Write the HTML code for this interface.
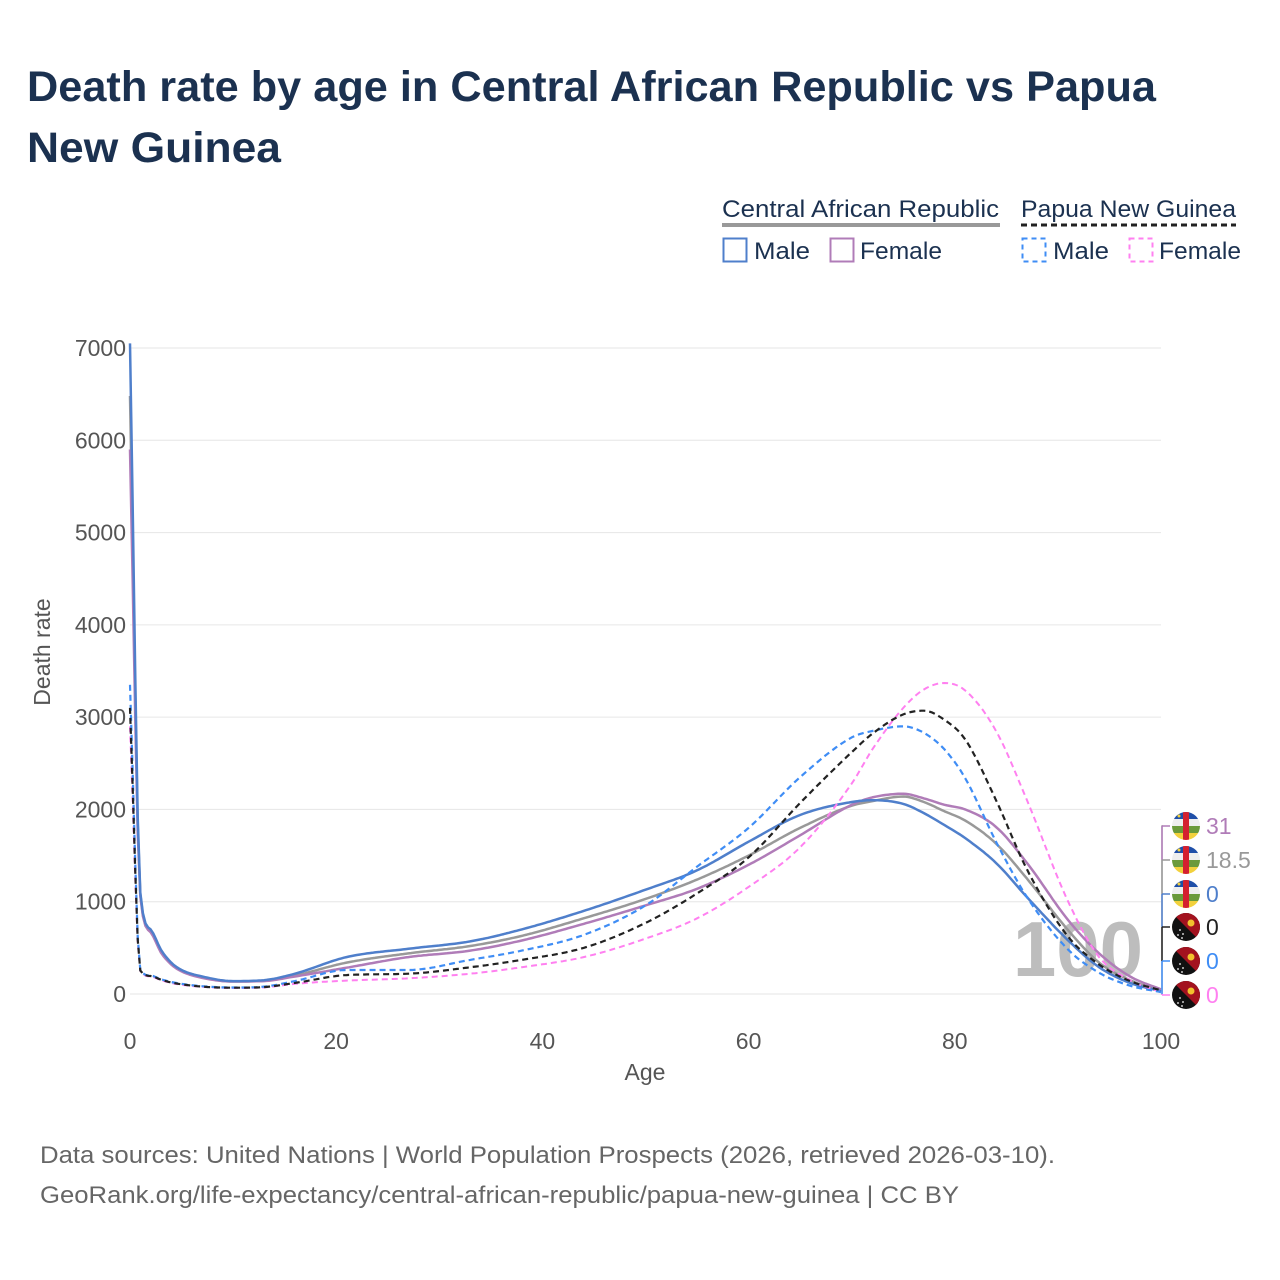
<!DOCTYPE html>
<html><head><meta charset="utf-8"><style>
html,body{margin:0;padding:0;background:#fff;}
body{width:1280px;height:1280px;position:relative;overflow:hidden;font-family:"Liberation Sans",sans-serif;}
</style></head><body>
<svg id="chart" width="1280" height="1280" xmlns="http://www.w3.org/2000/svg" style="position:absolute;left:0;top:0">
<text x="27" y="101" font-size="43" font-weight="bold" fill="#1b3150" textLength="1129" lengthAdjust="spacingAndGlyphs">Death rate by age in Central African Republic vs Papua</text>
<text x="27" y="162" font-size="43" font-weight="bold" fill="#1b3150" textLength="254" lengthAdjust="spacingAndGlyphs">New Guinea</text>

<g font-size="24" fill="#1b3150">
<text x="722" y="217" textLength="277" lengthAdjust="spacingAndGlyphs">Central African Republic</text>
<line x1="722" y1="225" x2="1000" y2="225" stroke="#999" stroke-width="4"/>
<text x="1021" y="217" textLength="215" lengthAdjust="spacingAndGlyphs">Papua New Guinea</text>
<line x1="1021" y1="225" x2="1236" y2="225" stroke="#222" stroke-width="3" stroke-dasharray="6,4"/>
<rect x="723.5" y="238.5" width="23" height="23" fill="none" stroke="#4f7fcb" stroke-width="2"/>
<text x="754" y="259" textLength="56" lengthAdjust="spacingAndGlyphs">Male</text>
<rect x="830.5" y="238.5" width="23" height="23" fill="none" stroke="#b07cb8" stroke-width="2"/>
<text x="860" y="259" textLength="82" lengthAdjust="spacingAndGlyphs">Female</text>
<rect x="1022.5" y="238.5" width="23" height="23" fill="none" stroke="#3f8df5" stroke-width="2" stroke-dasharray="5,4"/>
<text x="1053" y="259" textLength="56" lengthAdjust="spacingAndGlyphs">Male</text>
<rect x="1129.5" y="238.5" width="23" height="23" fill="none" stroke="#ff80f0" stroke-width="2" stroke-dasharray="5,4"/>
<text x="1159" y="259" textLength="82" lengthAdjust="spacingAndGlyphs">Female</text>
</g>

<g id="grid"></g>
<g id="yticks"></g>
<g id="xticks"></g>
<text x="1078" y="976" font-size="78" font-weight="bold" fill="#bdbdbd" text-anchor="middle">100</text>
<g id="series"></g>
<g id="endlabels"></g>

<text transform="translate(50,652) rotate(-90)" font-size="23" fill="#555" text-anchor="middle">Death rate</text>
<text x="645" y="1080" font-size="23" fill="#555" text-anchor="middle">Age</text>
<text x="40" y="1163" font-size="24" fill="#666" textLength="1015" lengthAdjust="spacingAndGlyphs">Data sources: United Nations | World Population Prospects (2026, retrieved 2026-03-10).</text>
<text x="40" y="1203" font-size="24" fill="#666" textLength="919" lengthAdjust="spacingAndGlyphs">GeoRank.org/life-expectancy/central-african-republic/papua-new-guinea | CC BY</text>
</svg>
<script>
const ages = [0,1,2,3,4,5,7,10,13,16,21,27,33,38,44,50,55,60,65,70,72,75,77,79,81,84,87,91,94,97,100];
const carMale = [7050,1100,700,480,340,260,190,140,150,220,400,490,570,700,900,1130,1340,1650,1940,2080,2100,2060,1960,1830,1690,1420,1050,580,290,120,30];
const carTotal = [6480,1080,680,460,325,250,180,135,145,200,340,440,520,630,820,1030,1240,1500,1800,2040,2090,2140,2080,1980,1880,1630,1250,690,340,150,30];
const carFemale = [5900,1060,670,450,320,245,175,135,140,190,285,400,470,580,760,960,1140,1400,1720,2050,2130,2170,2120,2050,2000,1810,1420,800,440,190,50];
const pngMale = [3350,260,200,160,130,110,85,70,80,140,260,260,370,470,640,960,1380,1800,2350,2780,2850,2900,2830,2650,2340,1650,1050,480,230,90,20];
const pngTotal = [3100,255,195,155,125,105,80,68,75,120,205,220,290,370,500,770,1090,1480,2070,2620,2820,3030,3070,2970,2760,2100,1350,620,320,140,40];
const pngFemale = [2900,250,190,150,120,100,78,65,72,110,145,170,220,290,400,600,820,1160,1590,2280,2650,3100,3300,3370,3290,2850,2100,1000,400,150,20];
const yTicks = [0,1000,2000,3000,4000,5000,6000,7000];
const xTicks = [0,20,40,60,80,100];
const endLabels = ["31","18.5","0","0","0","0"];

const NS="http://www.w3.org/2000/svg";
const X0=130,X1=1161,Y0=994,Y1=348;
function xs(a){return X0+(a/100)*(X1-X0);}
function ys(v){return Y0-(v/7000)*(Y0-Y1);}
function mk(tag,attrs,parent){const e=document.createElementNS(NS,tag);for(const k in attrs)e.setAttribute(k,attrs[k]);parent.appendChild(e);return e;}
const grid=document.getElementById('grid'),yt=document.getElementById('yticks'),xt=document.getElementById('xticks');
yTicks.forEach(t=>{
  const l=mk('line',{x1:X0,x2:X1,y1:ys(t),y2:ys(t),stroke:'#e6e6e6','stroke-width':1},grid);
  
  
  const tx=mk('text',{x:126,y:ys(t)+8,'font-size':23,fill:'#555','text-anchor':'end'},yt);
  tx.textContent=t;
  
  
});
xTicks.forEach(t=>{
  const tx=mk('text',{x:xs(t),y:1049,'font-size':23,fill:'#555','text-anchor':'middle'},xt);
  tx.textContent=t;
  
  
});
function mono(xa,ya){
  const n=xa.length,d=[],m=[];
  for(let i=0;i<n-1;i++)d.push((ya[i+1]-ya[i])/(xa[i+1]-xa[i]));
  m[0]=d[0];m[n-1]=d[n-2];
  for(let i=1;i<n-1;i++){m[i]=(d[i-1]*d[i]<=0)?0:(d[i-1]+d[i])/2;}
  for(let i=0;i<n-1;i++){if(d[i]===0){m[i]=0;m[i+1]=0;continue;}const a=m[i]/d[i],b=m[i+1]/d[i],s=a*a+b*b;if(s>9){const t=3/Math.sqrt(s);m[i]=t*a*d[i];m[i+1]=t*b*d[i];}}
  return function(x){let i=0;while(i<n-2&&x>xa[i+1])i++;const h=xa[i+1]-xa[i],t=(x-xa[i])/h,t2=t*t,t3=t2*t;
    return (2*t3-3*t2+1)*ya[i]+(t3-2*t2+t)*h*m[i]+(-2*t3+3*t2)*ya[i+1]+(t3-t2)*h*m[i+1];};
}
const ser=document.getElementById('series');
const defs=[
 ['car-total-line',carTotal,'#999',2.5,null],
 ['car-female-line',carFemale,'#b07cb8',2.5,null],
 ['car-male-line',carMale,'#4f7fcb',2.5,null],
 ['png-female-line',pngFemale,'#ff80f0',2,'6,4'],
 ['png-male-line',pngMale,'#3f8df5',2.2,'6,4'],
 ['png-total-line',pngTotal,'#222',2.2,'6,4']
];
defs.forEach(([name,vals,col,w,dash])=>{
  const f=mono(ages,vals);let d='';
  for(let a=0;a<=100.001;a+=0.25){d+=(a===0?'M':'L')+xs(a).toFixed(1)+','+ys(f(a)).toFixed(1);}
  const p=mk('path',{d:d,fill:'none',stroke:col,'stroke-width':w,'stroke-linejoin':'round'},ser);
  if(dash)p.setAttribute('stroke-dasharray',dash);
  
  
});
const el=document.getElementById('endlabels');
const lblCols=['#b07cb8','#999','#4f7fcb','#222','#3f8df5','#ff80f0'];
const lblY=[823,857,891,924,958,992];
const flagType=['car','car','car','png','png','png'];
mk('line',{x1:1162,x2:1162,y1:825,y2:994,stroke:'#bbb','stroke-width':1.5},el);
endLabels.forEach((txt,i)=>{
  const y=lblY[i];
  mk('line',{x1:1162,x2:1170,y1:y+3,y2:y+3,stroke:lblCols[i],'stroke-width':1.5},el);
  mk('line',{x1:1162,x2:1162,y1:y+3,y2:(i<5?lblY[i+1]+3:994),stroke:lblCols[i],'stroke-width':1.5},el);
  const g=mk('g',{},el);
  
  
  const cx=1186,cy=y+3,r=14,id='c'+i;
  const cp=mk('clipPath',{id:id},g);mk('circle',{cx:cx,cy:cy,r:r},cp);
  const gg=mk('g',{'clip-path':'url(#'+id+')'},g);
  if(flagType[i]==='car'){
    const cols=['#1f4fa8','#eee','#6a9a3a','#f2d13c'];
    cols.forEach((c,k)=>mk('rect',{x:cx-r,y:cy-r+k*7,width:28,height:7,fill:c},gg));
    mk('rect',{x:cx-3,y:cy-r,width:6,height:28,fill:'#d4202f'},gg);
    mk('circle',{cx:cx-7,cy:cy-10,r:1.5,fill:'#f2d13c'},gg);
  }else{
    mk('rect',{x:cx-r,y:cy-r,width:28,height:28,fill:'#111'},gg);
    mk('polygon',{points:(cx-r)+','+(cy-r)+' '+(cx+r)+','+(cy-r)+' '+(cx+r)+','+(cy+r),fill:'#a3121f'},gg);
    mk('circle',{cx:cx+5,cy:cy-4,r:3.5,fill:'#f2c12e'},gg);
    [[-6,3],[-3,7],[-8,8],[-4,11]].forEach(p=>mk('circle',{cx:cx+p[0],cy:cy+p[1],r:0.9,fill:'#fff'},gg));
  }
  const t=mk('text',{x:1206,y:y+11,'font-size':23,fill:lblCols[i]},el);
  t.textContent=txt;
  
  
});
</script>
</body></html>
